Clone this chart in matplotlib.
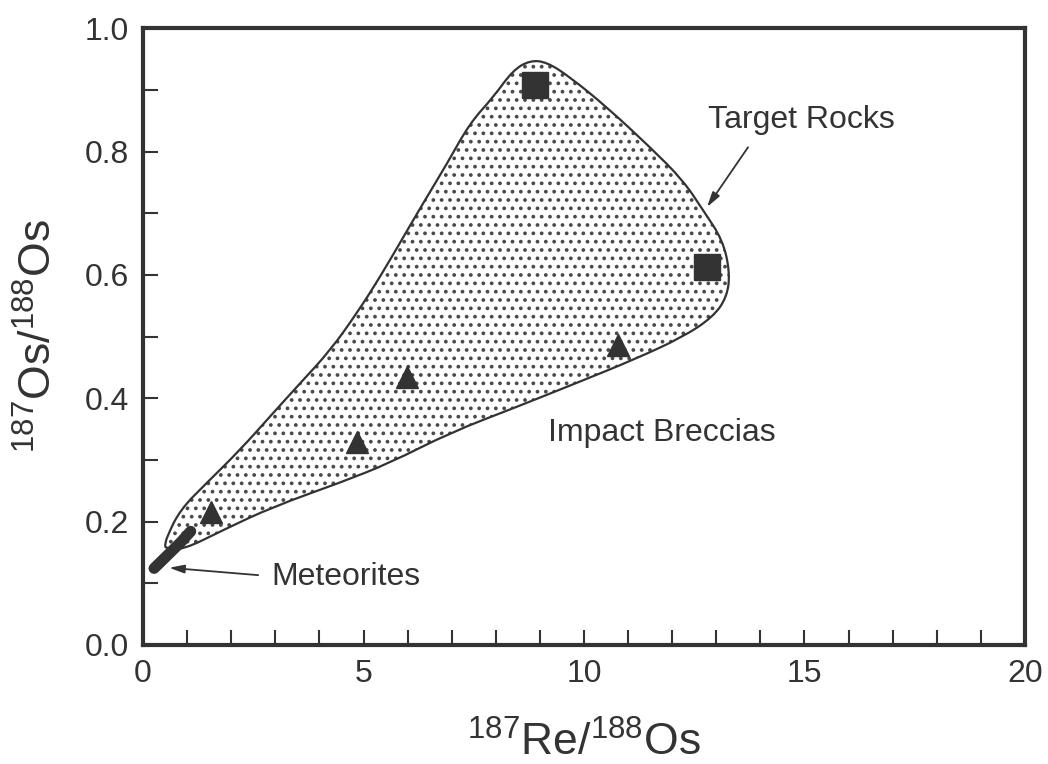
import numpy as np
import matplotlib
matplotlib.use('Agg')
import matplotlib.pyplot as plt
from matplotlib.patches import PathPatch
from matplotlib.path import Path

plt.rcParams['font.family'] = ['Liberation Sans', 'DejaVu Sans']
plt.rcParams['mathtext.fontset'] = 'custom'
plt.rcParams['mathtext.rm'] = 'Liberation Sans'
plt.rcParams['hatch.linewidth'] = 1.5

ink = '#333333'

# field of impact breccias (outline)
env_x = [0.50, 0.54, 0.84, 1.45, 2.20, 2.95, 3.56, 4.24, 4.85, 5.37, 5.90, 6.35,
         6.89, 7.41, 7.94, 8.39, 8.78, 9.16, 9.68, 10.52, 11.50, 12.24, 12.70,
         13.15, 13.31, 13.24, 12.93, 12.24, 11.11, 9.98, 8.48, 6.96, 5.60, 4.47,
         2.95, 1.81, 0.91, 0.50]
env_y = [0.162, 0.175, 0.219, 0.263, 0.316, 0.376, 0.424, 0.477, 0.538, 0.596,
         0.661, 0.716, 0.780, 0.846, 0.888, 0.932, 0.948, 0.945, 0.921, 0.872,
         0.807, 0.754, 0.705, 0.656, 0.603, 0.564, 0.532, 0.499, 0.462, 0.429,
         0.386, 0.344, 0.295, 0.263, 0.224, 0.186, 0.154, 0.157]

# target rocks
sq_x = [8.89, 12.79]
sq_y = [0.908, 0.613]

# impact breccias
tri_x = [1.54, 4.85, 5.99, 10.77]
tri_y = [0.216, 0.329, 0.435, 0.486]

# meteorites
met_x = [0.25, 0.55, 0.85, 1.08]
met_y = [0.124, 0.145, 0.166, 0.184]


def smooth_outline(xs, ys):
    # closed outline, read points used as quadratic control points
    p = np.column_stack([xs, ys])
    n = len(p)
    mid = (p + np.roll(p, -1, axis=0)) / 2
    verts = [mid[-1]]
    codes = [Path.MOVETO]
    for i in range(n):
        verts += [p[i], mid[i]]
        codes += [Path.CURVE3, Path.CURVE3]
    return Path(verts, codes)


fig, ax = plt.subplots(figsize=(10.48, 7.64), dpi=100)
fig.subplots_adjust(left=0.1365, right=0.978, bottom=0.156, top=0.963)

outline = smooth_outline(env_x, env_y)
ax.add_patch(PathPatch(outline, facecolor='none', edgecolor='#4a4a4a',
                       linewidth=0, hatch='..'))
ax.add_patch(PathPatch(outline, facecolor='none', edgecolor=ink, linewidth=1.6))

ax.plot(met_x, met_y, color=ink, lw=8, solid_capstyle='round')
ax.plot(sq_x, sq_y, 's', color=ink, ms=19, ls='none')
ax.plot(tri_x, tri_y, '^', color=ink, ms=16, ls='none')

arrow = dict(arrowstyle='-|>,head_length=0.9,head_width=0.25', color=ink, lw=1.3,
             shrinkA=0, shrinkB=0)
ax.annotate('', xy=(0.59, 0.125), xytext=(2.61, 0.113), arrowprops=arrow)
ax.text(2.90, 0.110, 'Meteorites', fontsize=23, color=ink, va='center')
ax.annotate('', xy=(12.79, 0.710), xytext=(13.72, 0.807), arrowprops=arrow)
ax.text(12.81, 0.851, 'Target Rocks', fontsize=23, color=ink, va='center')
ax.text(9.18, 0.343, 'Impact Breccias', fontsize=23, color=ink, va='center')

ax.set_xlim(0, 20)
ax.set_ylim(0, 1.0)
ax.set_xticks(np.arange(0, 21, 5))
ax.set_xticks(np.arange(0, 21, 1), minor=True)
ax.set_yticks(np.arange(0, 1.01, 0.2))
ax.set_yticks(np.arange(0, 1.01, 0.1), minor=True)
ax.yaxis.set_major_formatter(matplotlib.ticker.FormatStrFormatter('%.1f'))
ax.tick_params(which='both', direction='in', length=11, width=1.5, color=ink,
               labelcolor=ink, labelsize=23, pad=10)
for s in ax.spines.values():
    s.set_linewidth(3)
    s.set_color(ink)

ax.set_xlabel(r'$^{187}$Re/$^{188}$Os', fontsize=32, color=ink, labelpad=24)
ax.set_ylabel(r'$^{187}$Os/$^{188}$Os', fontsize=32, color=ink, labelpad=17)

fig.savefig('out.png', dpi=100)
